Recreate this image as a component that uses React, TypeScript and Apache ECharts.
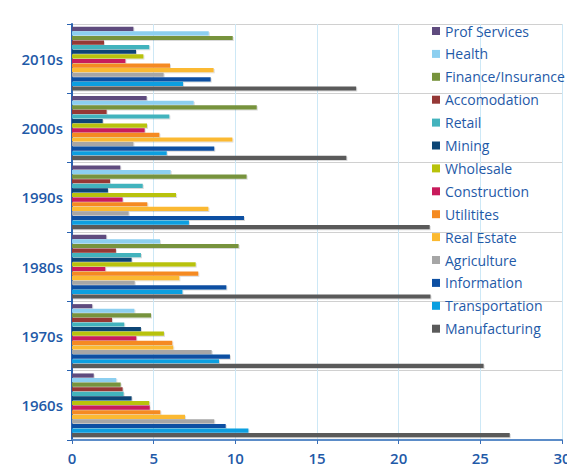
import React, { useEffect, useRef } from "react";
import * as echarts from "echarts";

const decades = ["1960s", "1970s", "1980s", "1990s", "2000s", "2010s"];
const xTicks = [0, 5, 10, 15, 20, 25, 30];

// values per decade: 1960s, 1970s, 1980s, 1990s, 2000s, 2010s
const profServices = [1.33, 1.24, 2.1, 2.96, 4.57, 3.76];
const health = [2.71, 3.82, 5.39, 6.04, 7.45, 8.37];
const finance = [2.98, 4.84, 10.2, 10.69, 11.31, 9.84];
const accomodation = [3.1, 2.45, 2.69, 2.33, 2.12, 1.96];
const retail = [3.16, 3.2, 4.22, 4.33, 5.96, 4.73];
const mining = [3.65, 4.22, 3.65, 2.2, 1.88, 3.92];
const wholesale = [4.73, 5.63, 7.57, 6.37, 4.59, 4.37];
const construction = [4.76, 3.94, 2.04, 3.1, 4.45, 3.27];
const utilities = [5.41, 6.14, 7.73, 4.61, 5.35, 6.0];
const realEstate = [6.92, 6.2, 6.57, 8.35, 9.82, 8.67];
const agriculture = [8.71, 8.55, 3.84, 3.47, 3.76, 5.61];
const information = [9.41, 9.67, 9.45, 10.53, 8.71, 8.49];
const transportation = [10.8, 9.0, 6.76, 7.16, 5.8, 6.8];
const manufacturing = [26.8, 25.2, 21.95, 21.9, 16.8, 17.4];

const seriesDefs: { name: string; data: number[]; color: string }[] = [
  { name: "Prof Services", data: profServices, color: "#5f4b7e" },
  { name: "Health", data: health, color: "#8ccff0" },
  { name: "Finance/Insurance", data: finance, color: "#77933c" },
  { name: "Accomodation", data: accomodation, color: "#953836" },
  { name: "Retail", data: retail, color: "#43b3bd" },
  { name: "Mining", data: mining, color: "#0c4575" },
  { name: "Wholesale", data: wholesale, color: "#b8c20a" },
  { name: "Construction", data: construction, color: "#c81a5b" },
  { name: "Utilitites", data: utilities, color: "#f58a20" },
  { name: "Real Estate", data: realEstate, color: "#fbb930" },
  { name: "Agriculture", data: agriculture, color: "#a6a6a6" },
  { name: "Information", data: information, color: "#0d4fa2" },
  { name: "Transportation", data: transportation, color: "#0a9fe0" },
  { name: "Manufacturing", data: manufacturing, color: "#5a5a5a" },
];

const FONT = "'Open Sans', 'Noto Sans', sans-serif";
const BLUE = "#1f5aa8";

export default function App() {
  const ref = useRef<HTMLDivElement>(null);
  useEffect(() => {
    if (!ref.current) return;
    const chart = echarts.init(ref.current, null, { renderer: "svg" });
    chart.setOption({
      animation: false,
      backgroundColor: "#ffffff",
      grid: { left: 72, right: 13, top: 24, bottom: 35, containLabel: false },
      legend: {
        data: seriesDefs.map((s) => s.name),
        orient: "vertical",
        left: 427,
        top: 19,
        itemWidth: 8,
        itemHeight: 8,
        itemGap: 8.9,
        icon: "rect",
        textStyle: { color: BLUE, fontSize: 14, fontFamily: FONT, fontWeight: "normal" },
      },
      xAxis: {
        type: "value",
        min: xTicks[0],
        max: xTicks[xTicks.length - 1],
        interval: 5,
        axisLine: { show: true, lineStyle: { color: "#5b8cc8", width: 2 } },
        axisTick: { show: true, length: 4, lineStyle: { color: "#3a6fb8" } },
        axisLabel: { color: BLUE, fontSize: 15, fontFamily: FONT, fontWeight: 600, margin: 10 },
        splitLine: { show: true, lineStyle: { color: "#cde8f6", width: 1 } },
      },
      yAxis: {
        type: "category",
        data: decades,
        axisLine: { show: true, lineStyle: { color: "#2a62b0", width: 2 } },
        axisTick: { show: true, length: 5, lineStyle: { color: "#2a62b0" } },
        axisLabel: { color: BLUE, fontSize: 15, fontFamily: FONT, fontWeight: 600, margin: 9 },
        splitLine: { show: true, lineStyle: { color: "#d0d0d0", width: 1 } },
      },
      series: seriesDefs.map((s) => ({
        type: "bar",
        name: s.name,
        data: s.data,
        barGap: "10%",
        barCategoryGap: "8%",
        itemStyle: {
          color: s.color,
          shadowColor: "rgba(0,0,0,0.15)",
          shadowOffsetX: 1,
          shadowOffsetY: 1,
          shadowBlur: 0,
        },
      })),
    });
    return () => chart.dispose();
  }, []);
  return <div ref={ref} style={{ width: 575, height: 475, margin: -8 }} />;
}
